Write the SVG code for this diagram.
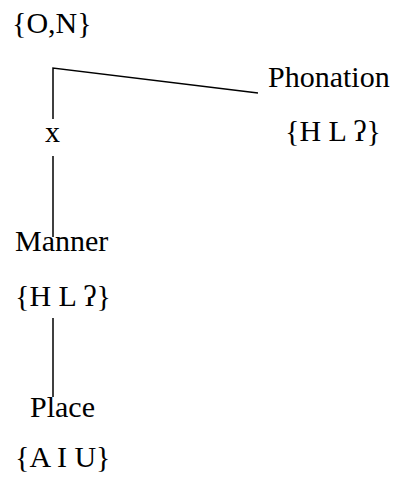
<svg xmlns="http://www.w3.org/2000/svg" width="398" height="481" viewBox="0 0 398 481">
  <style>
    text { font-family: "Liberation Serif", "DejaVu Serif", serif; font-size: 30px; fill: #000; }
    .edge { stroke: #000; stroke-width: 1.5; fill: none; }
  </style>
  <rect width="398" height="481" fill="#fff"/>
  <g id="connectors">
    <polyline class="edge" points="53,119 53,68 258,93"/>
    <line class="edge" x1="53" y1="156" x2="53" y2="237"/>
    <line class="edge" x1="53" y1="318" x2="53" y2="397"/>
  </g>
  <g id="node-root">
    <text x="12" y="33">{O,N}</text>
  </g>
  <g id="node-x">
    <text x="45" y="142">x</text>
  </g>
  <g id="node-phonation">
    <text x="268" y="87">Phonation</text>
    <text x="285" y="141">{H L ʔ}</text>
  </g>
  <g id="node-manner">
    <text x="15" y="251">Manner</text>
    <text x="15" y="306">{H L ʔ}</text>
  </g>
  <g id="node-place">
    <text x="30" y="417">Place</text>
    <text x="15" y="467">{A I U}</text>
  </g>
</svg>
